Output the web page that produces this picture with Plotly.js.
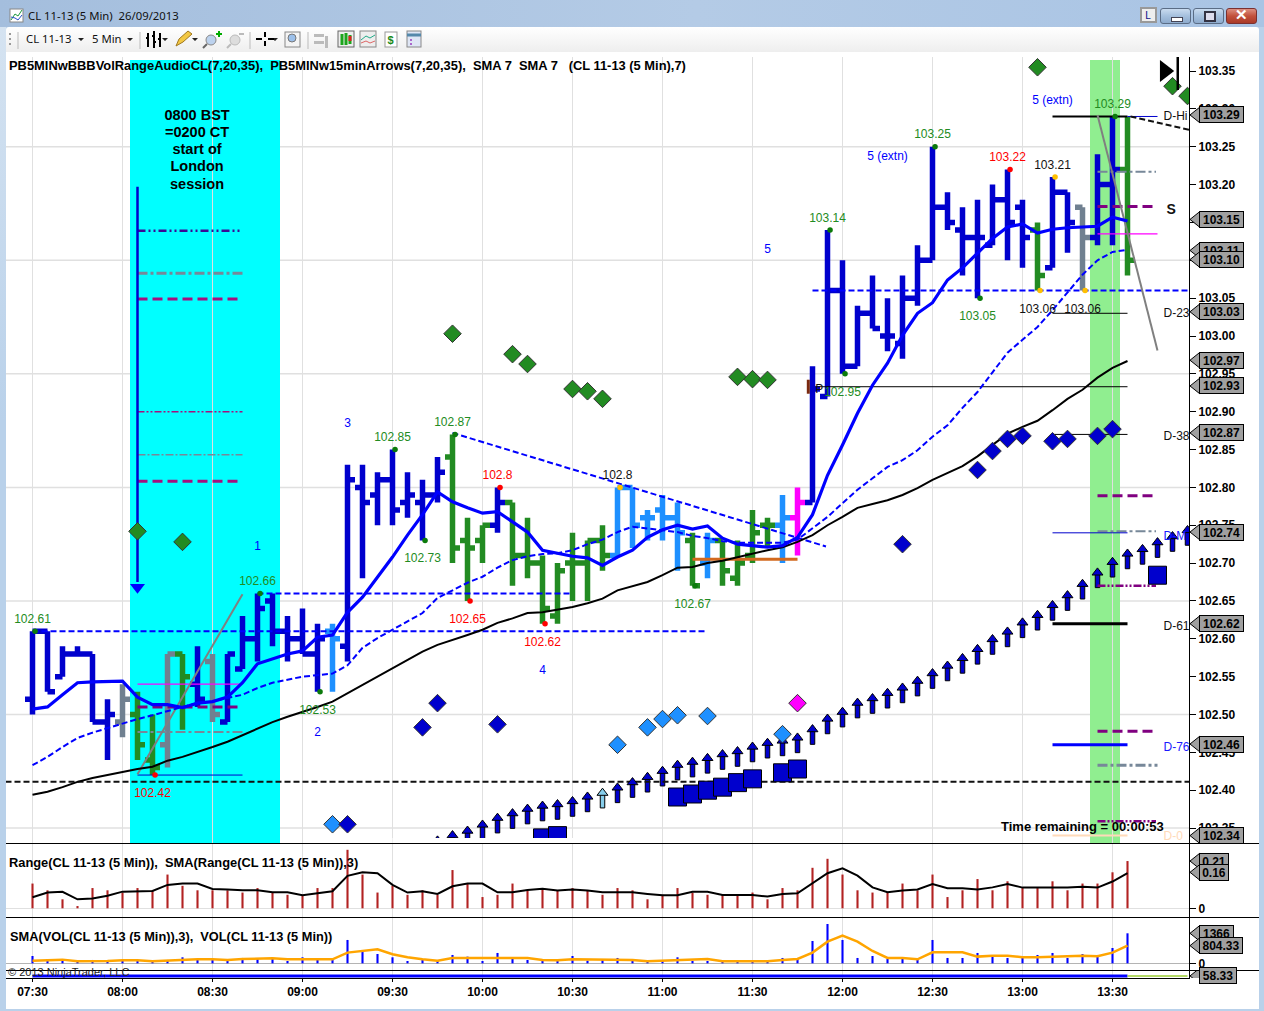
<!DOCTYPE html>
<html><head><meta charset="utf-8">
<script src="https://cdn.plot.ly/plotly-3.0.1.min.js"></script>
<style>
html,body{margin:0;padding:0;width:1264px;height:1011px;overflow:hidden;background:#b9d1ea;font-family:"Liberation Sans",Arial,sans-serif}
#titlebar{position:absolute;left:0;top:0;width:1264px;height:27px;background:linear-gradient(90deg,#a4bedd 0%,#b4cbe6 55%,#a9c4e4 100%)}
#leftstrip{position:absolute;left:0;top:27px;width:6px;height:984px;background:linear-gradient(#d5e3f1,#b9d1ea 40%)}
#rightstrip{position:absolute;left:1259px;top:27px;width:5px;height:984px;background:#b9d1ea}
#toolbar{position:absolute;left:6px;top:27px;width:1253px;height:25px;background:linear-gradient(#ffffff,#eeeeee);border-radius:3px 3px 0 0}
#canvas{position:absolute;left:6px;top:52px;width:1253px;height:957px;background:#fff}
#chart{position:absolute;left:0;top:0;width:1264px;height:1011px}
.t{position:absolute;white-space:pre;font-size:11.3px;color:#111;font-family:"Noto Sans","Liberation Sans",sans-serif}
svg.icons{position:absolute;left:0;top:0}
.btn{position:absolute;top:8px;height:14px;border:1px solid #5a6c85;border-radius:3px;background:linear-gradient(#c9dbef,#a5c0de 50%,#8eabcd)}
</style></head><body>
<div id="titlebar"></div><div id="leftstrip"></div><div id="rightstrip"></div>
<div id="toolbar"></div><div id="canvas"></div>
<div class="t" style="left:28px;top:8px">CL 11-13 (5 Min)  26/09/2013</div>
<div class="t" style="left:26px;top:31px">CL 11-13</div>
<div class="t" style="left:92px;top:31px">5 Min</div>
<svg class="icons" width="1264" height="60">
 <rect x="10" y="9" width="13" height="13" fill="#fff" stroke="#888"/><path d="M11 20 L15 14 L18 16 L22 10" stroke="#1a9a3a" fill="none"/><path d="M11 17 L15 18 L18 20 L22 15" stroke="#2850c8" fill="none"/>
 <path d="M10 33v2M10 38v2M10 43v2" stroke="#999" stroke-width="2"/><path d="M18 32v17M140 32v17M250 32v17M308 32v17" stroke="#bbb"/>
 <path d="M78 38h6l-3 3zM127 38h6l-3 3zM162 38h6l-3 3zM192 38h6l-3 3zM272 38h6l-3 3z" fill="#222"/>
 <path d="M148 33v14M154 31v17M160 33v14M146 38h2M154 36h-2M154 42h2M160 39h-2" stroke="#000" stroke-width="2"/>
 <path d="M176 46l3-7 9-8 4 3-9 8z" fill="#f3c843" stroke="#a07820"/>
 <circle cx="211" cy="40" r="5" fill="#bcd2ee" stroke="#888"/><path d="M207 44l-4 4" stroke="#666" stroke-width="2"/><path d="M216 34h6M219 31v6" stroke="#0a0" stroke-width="2"/>
 <circle cx="235" cy="40" r="5" fill="#ddd" stroke="#bbb"/><path d="M231 44l-4 4" stroke="#bbb" stroke-width="2"/><path d="M239 34h5" stroke="#bbb" stroke-width="2"/>
 <path d="M256 39h6M268 39h6M265 32v5M265 41v5" stroke="#000" stroke-width="2"/>
 <rect x="285" y="32" width="15" height="15" fill="#f4f4f4" stroke="#888"/><circle cx="292" cy="38" r="4" fill="#9cc0ea" stroke="#777"/>
 <path d="M314 34h10v3h-10zM314 41h10v3h-10zM325 36h3v12h-3z" fill="#bbb"/>
 <rect x="338" y="31" width="16" height="16" fill="#eee" stroke="#666"/><path d="M342 34v11M346 33v12M350 35v9" stroke="#1ca51c" stroke-width="3"/><path d="M350 36v5" stroke="#d22" stroke-width="3"/>
 <rect x="360" y="31" width="16" height="16" fill="#eee" stroke="#888"/><path d="M361 40l5-4 4 2 5-3" stroke="#2a8" fill="none"/><path d="M361 43l5-2 4 2 5-2" stroke="#d66" fill="none"/>
 <rect x="385" y="32" width="12" height="15" fill="#fff" stroke="#999"/><text x="387.5" y="44" font-size="11" font-weight="bold" fill="#1a8a1a">$</text>
 <rect x="407" y="31" width="14" height="16" fill="#dfe6f5" stroke="#888"/><path d="M407 35h14" stroke="#58a" stroke-width="3"/><path d="M410 40h2M410 44h2" stroke="#a6c" stroke-width="2"/>
 <path d="M1141 8h15v14h-15z" fill="#eee" stroke="#999" stroke-width="2"/>
</svg>
<div class="t" style="left:1145px;top:7px;font-size:11px;color:#14148c">L</div>
<div class="btn" style="left:1160px;width:29px"><div style="position:absolute;left:10px;top:8px;width:10px;height:3px;background:#fff;border:1px solid #445"></div></div>
<div class="btn" style="left:1193px;width:29px"><div style="position:absolute;left:10px;top:2px;width:8px;height:7px;border:2px solid #334;background:#dde"></div></div>
<div class="btn" style="left:1226px;width:29px;background:linear-gradient(#dc8f80,#c2513c 50%,#a93a28);border-color:#7a3030"><div style="position:absolute;left:8px;top:-3px;color:#fff;font-weight:bold;font-size:15px">✕</div></div>
<div id="chart"></div>
<script>
// ---------- bars: one entry per 5-minute bar, 07:30 onward ----------
const barIndex = Array.from({length: 74}, (_, i) => i);
const barHigh = [102.61,102.61,102.59,102.59,102.58,102.52,102.54,102.53,102.50,102.58,102.58,102.59,102.58,102.58,102.63,102.66,102.66,102.63,102.64,102.62,102.62,102.83,102.83,102.82,102.85,102.82,102.81,102.84,102.87,102.76,102.75,102.80,102.78,102.76,102.71,102.70,102.74,102.73,102.75,102.80,102.80,102.77,102.79,102.78,102.74,102.74,102.73,102.73,102.77,102.76,102.79,102.80,102.96,103.14,103.10,103.04,103.08,103.05,103.08,103.12,103.25,103.19,103.17,103.18,103.20,103.22,103.18,103.15,103.21,103.19,103.17,103.24,103.29,103.29];
const barLow = [102.50,102.53,102.55,102.58,102.49,102.44,102.47,102.44,102.42,102.43,102.48,102.51,102.49,102.49,102.56,102.57,102.59,102.57,102.58,102.53,102.53,102.57,102.68,102.75,102.75,102.76,102.73,102.78,102.70,102.65,102.70,102.74,102.67,102.68,102.62,102.62,102.65,102.65,102.69,102.71,102.72,102.73,102.73,102.69,102.67,102.68,102.67,102.67,102.70,102.72,102.70,102.71,102.78,102.92,102.95,102.96,103.01,102.98,102.97,103.04,103.10,103.14,103.08,103.05,103.12,103.10,103.09,103.06,103.09,103.11,103.06,103.12,103.12,103.08];
const barOpen = [102.52,102.61,102.55,102.58,102.58,102.49,102.49,102.50,102.44,102.46,102.58,102.54,102.57,102.49,102.56,102.60,102.65,102.61,102.60,102.58,102.61,102.59,102.80,102.79,102.81,102.78,102.78,102.79,102.84,102.73,102.73,102.75,102.78,102.71,102.70,102.63,102.70,102.70,102.73,102.71,102.80,102.76,102.77,102.76,102.73,102.70,102.73,102.68,102.71,102.75,102.75,102.76,102.78,102.92,103.06,102.96,103.03,103.00,102.99,103.05,103.10,103.17,103.14,103.13,103.12,103.18,103.17,103.14,103.09,103.19,103.17,103.13,103.20,103.22];
const barClose = [102.61,102.53,102.58,102.58,102.49,102.50,102.52,102.46,102.43,102.58,102.55,102.52,102.50,102.58,102.60,102.64,102.61,102.60,102.58,102.60,102.60,102.81,102.78,102.81,102.77,102.79,102.79,102.82,102.72,102.72,102.75,102.78,102.71,102.70,102.64,102.69,102.70,102.73,102.71,102.80,102.75,102.76,102.76,102.74,102.67,102.73,102.69,102.70,102.74,102.75,102.76,102.78,102.93,103.06,102.96,103.03,103.01,103.00,103.05,103.10,103.17,103.15,103.13,103.13,103.18,103.15,103.13,103.08,103.19,103.15,103.13,103.20,103.22,103.10];
const barColourCodes = "bbbbbbsggsgbsbbbbbbbdbbbbbbbgggbgggggggdddddgdggggdmbbbbbbbbbbbbbbbgbbsbbg";
// ---------- moving averages ----------
const sma7 = [102.507,102.510,102.526,102.542,102.543,102.544,102.544,102.523,102.513,102.513,102.509,102.515,102.517,102.523,102.542,102.567,102.573,102.580,102.584,102.602,102.605,102.635,102.655,102.682,102.708,102.737,102.764,102.794,102.781,102.773,102.766,102.768,102.754,102.741,102.717,102.713,102.709,102.707,102.697,102.708,102.717,102.734,102.744,102.750,102.745,102.749,102.733,102.725,102.723,102.721,102.723,102.734,102.764,102.816,102.856,102.898,102.935,102.964,103.001,103.030,103.044,103.074,103.090,103.110,103.129,103.144,103.148,103.136,103.141,103.143,103.144,103.145,103.157,103.152];
const sma20 = [102.433,102.444,102.457,102.469,102.476,102.482,102.489,102.494,102.499,102.505,102.510,102.515,102.517,102.522,102.526,102.535,102.542,102.546,102.550,102.552,102.554,102.565,102.588,102.601,102.612,102.622,102.634,102.654,102.664,102.674,102.682,102.694,102.704,102.709,102.712,102.713,102.717,102.725,102.731,102.741,102.748,102.746,102.744,102.741,102.736,102.733,102.729,102.727,102.727,102.727,102.727,102.731,102.746,102.761,102.779,102.797,102.812,102.827,102.836,102.849,102.867,102.882,102.905,102.926,102.952,102.978,102.995,103.012,103.034,103.058,103.081,103.100,103.111,103.114];
const sma35 = [102.394,102.398,102.404,102.411,102.416,102.420,102.425,102.428,102.431,102.439,102.444,102.450,102.457,102.464,102.473,102.482,102.490,102.497,102.503,102.510,102.517,102.528,102.539,102.550,102.561,102.572,102.583,102.592,102.598,102.605,102.612,102.621,102.627,102.634,102.635,102.638,102.642,102.647,102.653,102.664,102.670,102.675,102.684,102.694,102.695,102.700,102.703,102.708,102.713,102.717,102.721,102.728,102.737,102.750,102.761,102.773,102.778,102.783,102.790,102.799,102.810,102.819,102.828,102.841,102.856,102.871,102.880,102.888,102.902,102.917,102.929,102.945,102.958,102.967];
// ---------- range and volume panels ----------
const rangeValues = [0.11,0.08,0.04,0.01,0.09,0.08,0.07,0.09,0.08,0.15,0.10,0.08,0.08,0.08,0.07,0.09,0.07,0.06,0.06,0.09,0.09,0.26,0.15,0.07,0.10,0.06,0.08,0.06,0.17,0.11,0.05,0.06,0.11,0.08,0.09,0.08,0.09,0.08,0.06,0.09,0.08,0.04,0.06,0.09,0.07,0.06,0.06,0.06,0.07,0.04,0.09,0.08,0.18,0.22,0.15,0.08,0.07,0.07,0.11,0.08,0.15,0.05,0.08,0.13,0.08,0.12,0.09,0.09,0.12,0.08,0.11,0.11,0.16,0.21];
const rangeSma = [0.049,0.070,0.073,0.040,0.044,0.056,0.074,0.077,0.077,0.104,0.110,0.110,0.086,0.084,0.080,0.080,0.071,0.071,0.058,0.067,0.076,0.144,0.160,0.156,0.104,0.070,0.076,0.064,0.098,0.110,0.110,0.071,0.071,0.081,0.087,0.079,0.084,0.079,0.071,0.071,0.071,0.064,0.058,0.058,0.073,0.073,0.059,0.059,0.059,0.052,0.064,0.067,0.111,0.156,0.178,0.145,0.093,0.071,0.079,0.084,0.108,0.089,0.089,0.084,0.093,0.108,0.092,0.092,0.092,0.092,0.096,0.092,0.119,0.156];
const volumeValues = [334,121,152,61,152,137,152,152,106,152,273,152,197,137,243,197,243,106,273,197,152,1063,531,425,273,106,152,152,380,304,106,471,228,152,182,106,334,121,182,243,182,106,106,273,106,106,61,106,106,121,243,243,1017,1791,1063,243,334,197,243,182,1063,243,243,471,334,243,243,380,471,243,425,380,698,1366];
const volumeSma = [121,152,167,91,91,106,137,137,91,121,182,182,182,152,197,197,228,182,182,182,182,486,562,638,410,273,182,121,243,243,243,273,243,243,152,137,182,182,152,182,152,91,121,152,197,197,91,91,91,91,152,197,486,987,1260,987,562,243,243,182,501,501,501,304,349,349,273,273,304,304,349,319,486,804];
const oscIndex = [0,73], oscValue = [58.3,58.33], oscTailIndex = [73,77], oscTailValue = [58.33,58.33];
// ---------- swing labels ----------
const swingIdx = [0,8,15,19,24,26,28,29,31,34,39,44,53,54,60,63,65,67,68,70,72];
const swingPrice = [102.61,102.42,102.66,102.53,102.85,102.73,102.87,102.65,102.80,102.62,102.80,102.67,103.14,102.95,103.25,103.05,103.22,103.06,103.21,103.06,103.29];
const swingText = ["102.61","102.42","102.66","102.53","102.85","102.73","102.87","102.65","102.8","102.62","102.8","102.67","103.14","102.95","103.25","103.05","103.22","103.06","103.21","103.06","103.29"];
const swingSide = [1,-1,1,-1,1,-1,1,-1,1,-1,1,-1,1,-1,1,-1,1,-1,1,-1,1];
const swingKind = "grgggggrrrkgggggrkkkg";
// ---------- marks ----------
const greenDiamondIdx = [7,10,28,32,33,36,37,38,47,48,49,67,76,77];
const greenDiamondPrice = [102.742,102.728,103.003,102.976,102.963,102.930,102.927,102.917,102.946,102.943,102.942,103.355,103.330,103.317];
const blueDiamondIdx = [21,26,27,31,58,63,64,65,66,68,69,71,72];
const blueDiamondPrice = [102.355,102.483,102.515,102.487,102.725,102.823,102.848,102.864,102.868,102.861,102.864,102.868,102.877];
const skyDiamondIdx = [20,39,41,42,43,45,50];
const skyDiamondPrice = [102.355,102.460,102.483,102.494,102.499,102.498,102.474];
const pinkDiamondIdx = [51], pinkDiamondPrice = [102.515];
const squareIdx = [34,35,43,44,45,46,47,48,50,51,75];
const squarePrice = [102.337,102.340,102.391,102.395,102.400,102.404,102.410,102.415,102.423,102.428,102.684];
const arrowFirstIdx = 27;
const arrowTop = [102.340,102.347,102.353,102.361,102.370,102.376,102.382,102.386,102.388,102.392,102.398,102.403,102.410,102.417,102.424,102.432,102.440,102.444,102.449,102.454,102.458,102.464,102.469,102.472,102.476,102.487,102.501,102.510,102.522,102.528,102.535,102.542,102.551,102.561,102.571,102.581,102.593,102.606,102.616,102.628,102.638,102.651,102.664,102.679,102.694,102.708,102.719,102.725,102.734,102.742,102.750];
// ---------- drawn levels ----------
const levelPrice = [103.139,103.083,103.049,102.900,102.843,102.808,102.540,102.510,102.477,102.420, 103.217,103.171,103.135,102.789,102.742,102.670,102.478,102.433,102.359, 103.29,103.29,103.03,102.933,102.87,102.74,102.62,102.46,102.34, 102.66,102.61,103.06,102.411,102.705];
const levelFrom = [7,7,7,7,7,7,7,7,7,7, 71,71,71,71,71,71,71,71,71, 68,73,68,52.2,68,68,68,68,68, 15,0,52,-1.8,44];
const levelTo = [14,14,14,14,14,14,14,14,14,14, 74.9,74.9,75,74.9,74.9,74.9,74.9,75,74.9, 73,75,73,73,73,73,73,73,73, 36,45,77.2,77.2,51];
const levelStyle = ["navyDD","greyDot","pinkDash","pinkThinDD","greyThinDot","pinkDash","magentaThin","purpleDash","greyMid","blueThin", "greyMid","purpleDash","magentaThin","purpleDash","greyMid","purpleDD","purpleDash","greyDot","purpleDD", "black2","blueThin","black1","black1","black1","blueThin","black3","blue3","peach", "blueDash","blueDash","blueDash","blackDash","orange"];
const trendX = [[28,52.9],[73.2,77.2],[7,14],[71,75]];
const trendY = [[102.872,102.722],[103.29,103.272],[102.421,102.659],[103.292,102.981]];
const trendStyle = ["blueDash","blackDash","greyLine","greyLine"];
// ---------- text ----------
const waveIdx = [15,19,21,34,49,57,68];
const wavePrice = [102.721,102.476,102.884,102.558,103.114,103.237,103.310];
const waveText = ["1","2","3","4","5","5 (extn)","5 (extn)"];
const pivotLabelPrice = [103.289,103.029,102.867,102.735,102.616,102.456,102.338];
const pivotLabelText = ["D-Hi","D-23","D-38","D-M","D-61","D-76","D-0"];
const noteLines = ["0800 BST","=0200 CT","start of","London","session"];
const notePrice = [103.290,103.268,103.245,103.223,103.199];
const yTickValues = [102.35,102.40,102.45,102.50,102.55,102.60,102.65,102.70,102.75,102.80,102.85,102.90,102.95,103.00,103.05,103.10,103.15,103.20,103.25,103.30,103.35];
const gridPrices = [102.35,102.50,102.65,102.80,102.95,103.10,103.25];
const xTickIdx = [0,6,12,18,24,30,36,42,48,54,60,66,72];
const xTickText = ["07:30","08:00","08:30","09:00","09:30","10:00","10:30","11:00","11:30","12:00","12:30","13:00","13:30"];
const priceTagLabels = ["103.29","103.15","103.11","103.10","103.03","102.97","102.93","102.87","102.74","102.62","102.46","102.34"];
const priceTagLevels = [103.292,103.154,103.113,103.101,103.032,102.968,102.934,102.872,102.741,102.620,102.461,102.340];
const rangeTags = [0.21,0.16], volumeTags = [1366,804.33], oscTags = [58.33];

// ---------- styles ----------
const F = '"Liberation Sans", Arial, sans-serif';
const W = 1264, H = 1011;
const blue = '#0000cd', green = '#228b22', slate = '#708090', sky = '#1e90ff', pink = '#ff00ff';
const barColours = {b: blue, g: green, s: slate, d: sky, m: pink};
const lineStyles = {
  navyDD:{color:'#3a0a96',width:2.5,dash:'8px,3px,2px,3px,2px,3px'},
  greyDot:{color:'#778899',width:3,dash:'10px,3px,3px,3px'},
  greyMid:{color:'#778899',width:2,dash:'10px,3px,3px,3px'},
  pinkDash:{color:'#a5107f',width:3,dash:'10px,5px'},
  pinkThinDD:{color:'#a5107f',width:1.5,dash:'7px,2px,2px,2px,2px,2px'},
  greyThinDot:{color:'#778899',width:1.5,dash:'8px,2px,2px,2px'},
  magentaThin:{color:'#ff00ff',width:1.2},
  purpleDash:{color:'#800080',width:3,dash:'10px,5px'},
  purpleDD:{color:'#800080',width:2.5,dash:'8px,2px,2px,2px,2px,2px'},
  blueThin:{color:'#0000cd',width:1},
  black1:{color:'#000',width:1},
  black2:{color:'#000',width:2},
  black3:{color:'#000',width:3},
  blue3:{color:'#0000ff',width:3},
  peach:{color:'#ffdab9',width:2},
  blueDash:{color:'#0000ff',width:2,dash:'6px,3px'},
  blackDash:{color:'#111',width:2,dash:'6px,3px'},
  greyLine:{color:'#808080',width:2},
  orange:{color:'#d2691e',width:3}
};
const tagFill = '#a0a0a0';
const pxPerPrice = 757;
const px = n => n / pxPerPrice;              // pixel offset expressed as price
const dom = (top, bottom) => [(H - bottom) / H, (H - top) / H];
const paperX = v => v / W, paperY = v => (H - v) / H;

// ---------- traces ----------
const traces = [];
const common = {hoverinfo: 'skip', showlegend: false};

// OHLC, one trace per bar colour
Object.keys(barColours).forEach(code => {
  const pick = arr => arr.map((v, i) => barColourCodes[i] === code ? v : null);
  const ln = {line: {color: barColours[code], width: 5.5}};
  traces.push({...common, type: 'ohlc', x: barIndex, open: pick(barOpen), high: pick(barHigh), low: pick(barLow), close: pick(barClose),
    increasing: ln, decreasing: ln, tickwidth: 0.5, xaxis: 'x', yaxis: 'y'});
});

// arrow shafts
const arrowLen = px(20), headLen = px(6.5);
const arrowIdx = arrowTop.map((_, k) => arrowFirstIdx + k);
const arrowColours = arrowIdx.map(i => i === 38 ? '#87ceeb' : blue);
traces.push({...common, type: 'bar', x: arrowIdx, y: arrowTop.map(() => arrowLen - headLen), base: arrowTop.map(t => t - arrowLen),
  width: 0.3, marker: {color: arrowColours, line: {color: '#000', width: 1}}, xaxis: 'x', yaxis: 'y'});

// range + volume bars
traces.push({...common, type: 'bar', x: barIndex, y: rangeValues, width: 0.14, marker: {color: '#b22222'}, xaxis: 'x', yaxis: 'y2'});
traces.push({...common, type: 'bar', x: barIndex, y: volumeValues, width: 0.14, marker: {color: '#0000ff'}, xaxis: 'x', yaxis: 'y3'});

const line = (x, y, style, axis) => ({...common, type: 'scatter', mode: 'lines', x, y, line: style, yaxis: axis || 'y', xaxis: 'x'});

// horizontal levels & trends
levelPrice.forEach((p, k) => traces.push(line([levelFrom[k], levelTo[k]], [p, p], lineStyles[levelStyle[k]])));
trendX.forEach((x, k) => traces.push(line(x, trendY[k], lineStyles[trendStyle[k]])));

// moving averages
traces.push(line(barIndex, sma35, {color: '#000', width: 2}));
traces.push(line(barIndex, sma20, {color: '#0000ff', width: 2, dash: '6px,3px'}));
traces.push(line(barIndex, sma7, {color: '#0000ff', width: 3.2}));
traces.push(line(barIndex, rangeSma, {color: '#000', width: 2}, 'y2'));
traces.push(line(barIndex, volumeSma, {color: '#ffa500', width: 2.5}, 'y3'));
traces.push(line(oscIndex, oscValue, {color: '#0000ff', width: 3}, 'y4'));
traces.push(line(oscTailIndex, oscTailValue, {color: '#9acd32', width: 1.5}, 'y4'));

// session arrow
traces.push(line([7, 7], [103.197, 102.675], {color: '#0000cd', width: 2.5}));
traces.push({...common, type: 'scatter', mode: 'markers', x: [7], y: [102.668], marker: {symbol: 'triangle-down', size: 13, color: '#0000ff'}});

// arrow heads
traces.push({...common, type: 'scatter', mode: 'markers', x: arrowIdx, y: arrowTop.map(t => t - px(5)),
  marker: {symbol: 'triangle-up', size: 9.5, color: arrowColours, line: {color: '#000', width: 1}}});

const markers = (x, y, symbol, size, color) => ({...common, type: 'scatter', mode: 'markers', x, y,
  marker: {symbol, size, color, line: {color: '#333', width: 1}}});
traces.push(markers(greenDiamondIdx, greenDiamondPrice, 'diamond', 13.5, green));
traces.push(markers(skyDiamondIdx, skyDiamondPrice, 'diamond', 13.5, sky));
traces.push(markers(blueDiamondIdx, blueDiamondPrice, 'diamond', 13.5, blue));
traces.push(markers(pinkDiamondIdx, pinkDiamondPrice, 'diamond', 13.5, pink));
traces.push({...common, type: 'scatter', mode: 'markers', x: squareIdx, y: squarePrice,
  marker: {symbol: 'square', size: 18, color: blue, line: {color: '#000', width: 1}}});

// end-of-chart glyph
traces.push({...common, type: 'scatter', mode: 'markers', x: [75.48], y: [103.35], marker: {symbol: 'triangle-right', size: 19, color: '#000'}});
traces.push(line([76.35, 76.35], [103.373, 103.325], {color: '#000', width: 2.5}));

// swing dots + labels
const swingDotColour = {g: '#0b7a0b', r: '#ff0000', k: '#ffc000'};
const swingTextColour = {g: '#228b22', r: '#ff0000', k: '#111111'};
traces.push({...common, type: 'scatter', mode: 'markers', x: swingIdx.map(i => i + 0.17), y: swingPrice,
  marker: {symbol: 'circle', size: 5.5, color: swingIdx.map((_, k) => swingDotColour[swingKind[k]])}});
traces.push({...common, type: 'scatter', mode: 'text', x: swingIdx, y: swingPrice.map((p, k) => p + (swingSide[k] > 0 ? px(11.5) : -px(19))),
  text: swingText, textposition: 'middle center',
  textfont: {family: F, size: 12, color: swingIdx.map((_, k) => swingTextColour[swingKind[k]])}});
// wave labels
traces.push({...common, type: 'scatter', mode: 'text', x: waveIdx, y: wavePrice, text: waveText, textposition: 'middle center',
  textfont: {family: F, size: 12, color: '#0000ff'}});
// session note
traces.push({...common, type: 'scatter', mode: 'text', x: noteLines.map(() => 10.97), y: notePrice, text: noteLines, textposition: 'middle center',
  textfont: {family: F, size: 14.5, color: '#000', weight: 700}});
// pivot labels (clipped by the axis)
traces.push({...common, type: 'scatter', mode: 'text', x: pivotLabelPrice.map(() => 75.4), y: pivotLabelPrice, text: pivotLabelText, textposition: 'middle right',
  textfont: {family: F, size: 12, color: ['#111','#111','#111','#1a1aff','#111','#1a1aff','#ffdab9']}});
traces.push({...common, type: 'scatter', mode: 'text', x: [75.6], y: [103.166], text: ['S'], textposition: 'middle right',
  textfont: {family: F, size: 14, color: '#111', weight: 700}});
// pivot "P"
traces.push({...common, type: 'scatter', mode: 'markers', x: [51.72], y: [102.933], marker: {symbol: 'line-ns', size: 10, line: {color: '#7a2a10', width: 3}}});
traces.push({...common, type: 'scatter', mode: 'text', x: [52.45], y: [102.929], text: ['P'], textposition: 'middle center',
  textfont: {family: F, size: 12, color: '#111'}});

// ---------- shapes ----------
const shapes = [];
const TOP = 103 + (336 - 60) / pxPerPrice, BOT = 103 - (843 - 336) / pxPerPrice;
shapes.push({type: 'rect', layer: 'below', xref: 'x', yref: 'y', x0: 6.5, x1: 16.5, y0: BOT, y1: TOP, fillcolor: '#00ffff', line: {width: 0}});
shapes.push({type: 'rect', layer: 'below', xref: 'x', yref: 'y', x0: 70.5, x1: 72.5, y0: BOT, y1: TOP, fillcolor: '#90ee90', line: {width: 0}});
gridPrices.forEach(p => shapes.push({type: 'line', layer: 'between', xref: 'paper', yref: 'y', x0: paperX(6), x1: paperX(1189), y0: p, y1: p, line: {color: '#e0e0e0', width: 1.5}}));
// clip strip under the arrow band
shapes.push({type: 'rect', layer: 'above', xref: 'x', yref: 'y', x0: 24, x1: 40, y0: BOT, y1: 103 - (838 - 336) / pxPerPrice, fillcolor: '#fff', line: {width: 0}});
// panel separators
[843.5, 917.5, 970.5].forEach(v => shapes.push({type: 'line', xref: 'paper', yref: 'paper', x0: paperX(6), x1: paperX(1259), y0: paperY(v), y1: paperY(v), line: {color: '#000', width: 1}}));
// price-tag tips: half height given in each panel's own units
const tagTip = (v, axis, half) => shapes.push({type: 'path', layer: 'above', xref: 'paper', yref: axis,
  path: `M ${paperX(1190)} ${v} L ${paperX(1200)} ${v + half} L ${paperX(1200)} ${v - half} Z`,
  fillcolor: tagFill, line: {color: '#000', width: 1}});

// ---------- annotations ----------
const annotations = [];
const txt = (text, x, y, o) => annotations.push(Object.assign({text, xref: 'paper', yref: 'paper', x: paperX(x - 2), y: paperY(y), xanchor: 'left', yanchor: 'middle', showarrow: false, font: {family: F, size: 13, color: '#000'}}, o || {}));
const heavy = size => ({font: {family: F, size, color: '#000', weight: 700}});
txt('PB5MINwBBBVolRangeAudioCL(7,20,35),&nbsp; PB5MINw15minArrows(7,20,35),&nbsp; SMA 7&nbsp; SMA 7&nbsp;&nbsp; (CL 11-13 (5 Min),7)', 9, 65.5, heavy(12.9));
txt('Range(CL 11-13 (5 Min)),&nbsp; SMA(Range(CL 11-13 (5 Min)),3)', 9, 862, heavy(12.85));
txt('SMA(VOL(CL 11-13 (5 Min)),3),&nbsp; VOL(CL 11-13 (5 Min))', 10, 936, heavy(12.8));
txt('© 2013 NinjaTrader, LLC', 8, 972, {font: {family: F, size: 11, color: '#222'}});
txt('Time remaining = 00:00:53', 1001, 826.5, heavy(13));
const tag = (v, text, axis, w, half) => {
  tagTip(v, axis, half);
  annotations.push({text, xref: 'paper', yref: axis, x: paperX(1198.5), y: v, xanchor: 'left', yanchor: 'middle', showarrow: false,
    bgcolor: tagFill, bordercolor: '#000', borderwidth: 1, borderpad: 0, width: w, height: 15, font: {family: F, size: 12, color: '#000', weight: 700}});
};
priceTagLevels.forEach((v, k) => tag(v, priceTagLabels[k], 'y', 43, px(8)));
rangeTags.forEach(v => tag(v, v.toFixed(2), 'y2', 28, 8 / 225));
tag(1366, '1366', 'y3', 33, 8 / 0.02196); tag(804.33, '804.33', 'y3', 42, 8 / 0.02196); tag(58.33, '58.33', 'y4', 36, 8 * 28 / 7);

// ---------- layout ----------
const axisFont = {family: F, size: 12, color: '#000', weight: 700};
const yBase = {side: 'right', anchor: 'x', fixedrange: true, showline: true, linecolor: '#000', linewidth: 1, showgrid: false, ticks: 'outside', ticklen: 6, tickcolor: '#000',
  tickfont: axisFont, zeroline: false};
const layout = {
  width: W, height: H, margin: {l: 0, r: 0, t: 0, b: 0, pad: 0}, paper_bgcolor: 'rgba(0,0,0,0)', plot_bgcolor: '#fff', showlegend: false, barmode: 'overlay',
  font: {family: F, color: '#000'}, shapes, annotations,
  xaxis: {domain: [paperX(6), paperX(1189)], range: [(6 - 32.5) / 15, (1189 - 32.5) / 15], anchor: 'y4', tickmode: 'array', tickvals: xTickIdx, ticktext: xTickText,
    showgrid: true, gridcolor: '#e0e0e0', gridwidth: 1.5, ticks: 'outside', ticklen: 3, tickcolor: '#000', tickfont: axisFont,
    showline: true, linecolor: '#000', zeroline: false, rangeslider: {visible: false}, fixedrange: true},
  yaxis: {...yBase, domain: dom(57, 843), range: [BOT, 103 + (336 - 57) / pxPerPrice], tickmode: 'array', tickvals: yTickValues, ticktext: yTickValues.map(v => v.toFixed(2))},
  yaxis2: {...yBase, domain: dom(844, 917), range: [-(917 - 908.3) / 225, (908.3 - 844) / 225], tickmode: 'array', tickvals: [0], ticktext: ['0'], zeroline: true, zerolinecolor: '#e0e0e0', zerolinewidth: 1.5},
  yaxis3: {...yBase, domain: dom(918, 970), range: [-(970 - 963.3) / 0.02196, (963.3 - 918) / 0.02196], tickmode: 'array', tickvals: [0], ticktext: ['0'], zeroline: true, zerolinecolor: '#b4b4b4', zerolinewidth: 1.5},
  yaxis4: {...yBase, domain: dom(971, 978), range: [50, 78], ticks: '', showticklabels: false}
};
Plotly.newPlot('chart', traces, layout, {staticPlot: true, displayModeBar: false});
</script></body></html>
